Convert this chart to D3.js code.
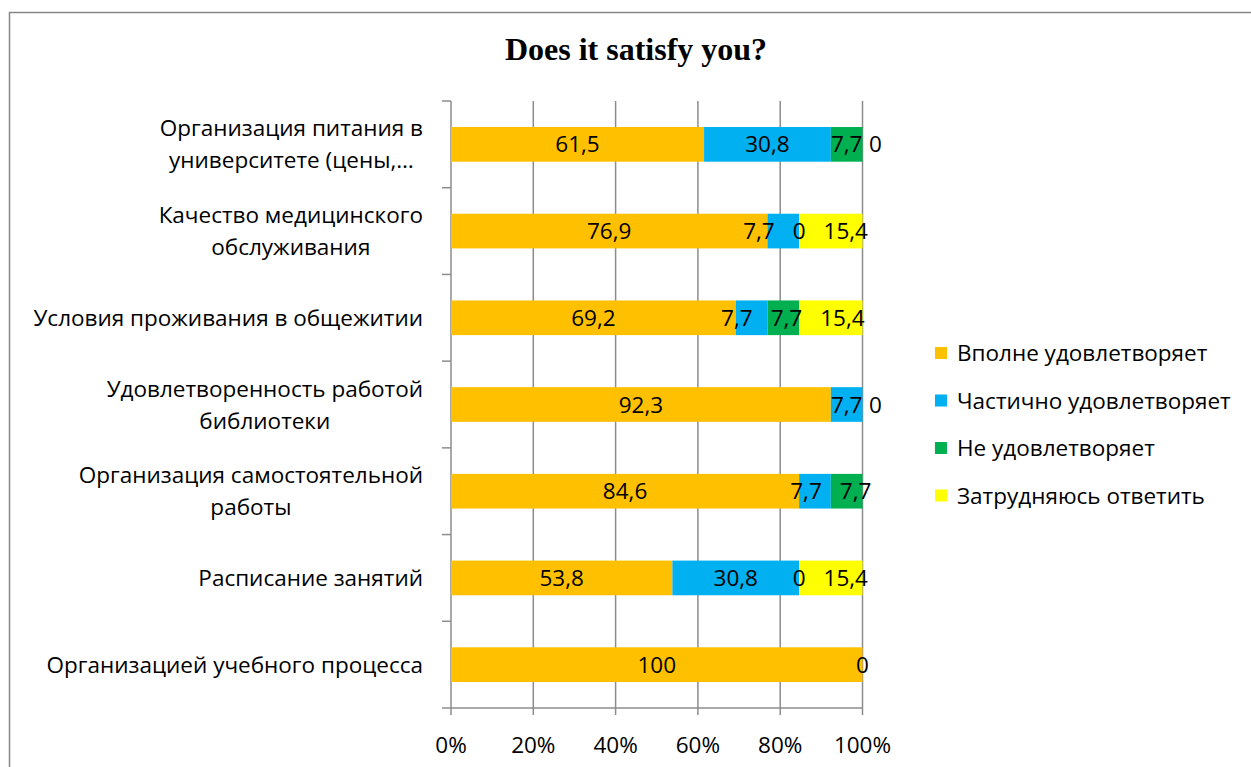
<!DOCTYPE html>
<html><head><meta charset="utf-8">
<script src="https://cdn.jsdelivr.net/npm/d3@7"></script>
<style>body{margin:0;background:#fff}svg{display:block}</style>
</head><body><svg id="c" width="1251" height="767"></svg>
<script>
const categories = [
  ["Организация питания в", "университете (цены,…"],
  ["Качество медицинского", "обслуживания"],
  ["Условия проживания в общежитии"],
  ["Удовлетворенность работой", "библиотеки"],
  ["Организация самостоятельной", "работы"],
  ["Расписание занятий"],
  ["Организацией учебного процесса"]
];
const seriesNames = ["Вполне удовлетворяет", "Частично удовлетворяет", "Не удовлетворяет", "Затрудняюсь ответить"];
const seriesFull    = [61.5, 76.9, 69.2, 92.3, 84.6, 53.8, 100];
const seriesPartial = [30.8, 7.7, 7.7, 7.7, 7.7, 30.8, 0];
const seriesNot     = [7.7, 0, 7.7, 0, 7.7, 0, 0];
const seriesHard    = [0, 15.4, 15.4, 0, 0, 15.4, 0];
const xTicks = [0, 20, 40, 60, 80, 100];
const colors = ["#FFC000", "#00B0F0", "#00B050", "#FFFF00"];

const font = '"Open Sans", sans-serif';
const fs = 22.5;
const svg = d3.select("#c");
svg.append("rect").attr("x", 9.5).attr("y", 12.5).attr("width", 1400).attr("height", 900)
  .attr("fill", "#fff").attr("stroke", "#888").attr("stroke-width", 1.5);

svg.append("text").attr("x", 636).attr("y", 60).attr("text-anchor", "middle")
  .attr("font-family", '"Liberation Serif", "Times New Roman", serif').attr("font-weight", "bold")
  .attr("font-size", 32).text("Does it satisfy you?");

const x0 = 451, x1 = 862.5, yTop = 101, yBot = 708;
const x = d3.scaleLinear().domain([0, 100]).range([x0, x1]);
const y = d3.scaleBand().domain(d3.range(categories.length)).range([yTop, yBot]).paddingInner(0.6).paddingOuter(0.3);

const series = [seriesFull, seriesPartial, seriesNot, seriesHard];
const rows = categories.map((c, i) => { const o = {i}; series.forEach((s, k) => o["s" + k] = s[i]); return o; });
const stack = d3.stack().keys(series.map((s, k) => "s" + k))(rows);

const g = svg.append("g");
g.selectAll("line.grid").data(xTicks).join("line")
  .attr("x1", d => x(d)).attr("x2", d => x(d)).attr("y1", yTop).attr("y2", yBot + 7)
  .attr("stroke", "#8c8c8c").attr("stroke-width", 1.5);
g.append("line").attr("x1", x0).attr("x2", x1).attr("y1", yBot).attr("y2", yBot).attr("stroke", "#8c8c8c").attr("stroke-width", 1.5);
const bandStep = (yBot - yTop) / categories.length;
g.selectAll("line.yt").data(d3.range(categories.length + 1)).join("line")
  .attr("x1", x0 - 9).attr("x2", x0).attr("y1", d => yTop + d * bandStep).attr("y2", d => yTop + d * bandStep)
  .attr("stroke", "#8c8c8c").attr("stroke-width", 1.5);

g.selectAll("text.xl").data(xTicks).join("text")
  .attr("x", d => x(d)).attr("y", 753).attr("text-anchor", "middle")
  .attr("font-family", font).attr("font-size", fs).attr("fill", "#000").text(d => d + "%");

stack.forEach((layer, k) => {
  svg.append("g").selectAll("rect").data(layer).join("rect")
    .attr("x", d => x(d[0])).attr("width", d => x(d[1]) - x(d[0]))
    .attr("y", (d, i) => y(i)).attr("height", y.bandwidth())
    .attr("fill", colors[k]);
});

// data labels: centred in segments, overlapping labels pushed apart
const fmt = v => String(v).replace(".", ",");
const measure = svg.append("text").attr("font-family", font).attr("font-size", fs).attr("visibility", "hidden");
const textW = t => { measure.text(t); return measure.node().getComputedTextLength(); };
categories.forEach((c, i) => {
  const labels = [];
  let trailing = null;
  const seen = new Set();
  stack.forEach((layer, k) => {
    const d = layer[i];
    const val = series[k][i];
    const cx = x((d[0] + d[1]) / 2);
    if (val === 0 && d[1] === 100 && series[0][i] !== 100) {
      if (!trailing) trailing = {t: "0", x: x(100) + 13, w: textW("0")};
      return;
    }
    const key = Math.round(cx);
    if (val === 0 && seen.has(key)) return;
    seen.add(key);
    labels.push({t: fmt(val), x: cx, w: textW(fmt(val)), fixed: val === 0});
  });
  const pad = 18;
  for (let it = 0; it < 60; it++) {
    for (let a = 0; a < labels.length - 1; a++) {
      const A = labels[a], B = labels[a + 1];
      const need = (A.w + B.w) / 2 + pad - (B.x - A.x);
      if (need > 0.01) {
        if (A.fixed && !B.fixed) B.x += need;
        else if (B.fixed && !A.fixed) A.x -= need;
        else if (!A.fixed && !B.fixed) { A.x -= need / 2; B.x += need / 2; }
      }
    }
  }
  if (trailing) {
    const last = labels[labels.length - 1];
    if (last.x + last.w / 2 + 4 < trailing.x - trailing.w / 2) labels.push(trailing);
  }
  labels.forEach(l => svg.append("text").attr("x", l.x).attr("y", y(i) + y.bandwidth() / 2).attr("dy", "0.36em")
    .attr("text-anchor", "middle").attr("font-family", font).attr("font-size", fs).attr("fill", "#000").text(l.t));
});
measure.remove();

const labelRight = 423;
categories.forEach((lines, i) => {
  const cy = y(i) + y.bandwidth() / 2;
  const lh = 32;
  const grp = svg.append("g");
  const texts = lines.map((t, j) => grp.append("text")
    .attr("y", cy + (j - (lines.length - 1) / 2) * lh).attr("dy", "0.36em")
    .attr("text-anchor", "middle").attr("font-family", font).attr("font-size", fs).attr("fill", "#000").text(t));
  const maxW = d3.max(texts, t => t.node().getComputedTextLength());
  texts.forEach(t => t.attr("x", labelRight - maxW / 2));
});

const lg = svg.append("g");
seriesNames.forEach((n, k) => {
  const ly = 353 + k * 47.5;
  lg.append("rect").attr("x", 935).attr("y", ly - 6).attr("width", 12).attr("height", 12).attr("fill", colors[k]);
  lg.append("text").attr("x", 957).attr("y", ly).attr("dy", "0.36em").attr("font-family", font)
    .attr("font-size", fs).attr("fill", "#000").text(n);
});
</script></body></html>
